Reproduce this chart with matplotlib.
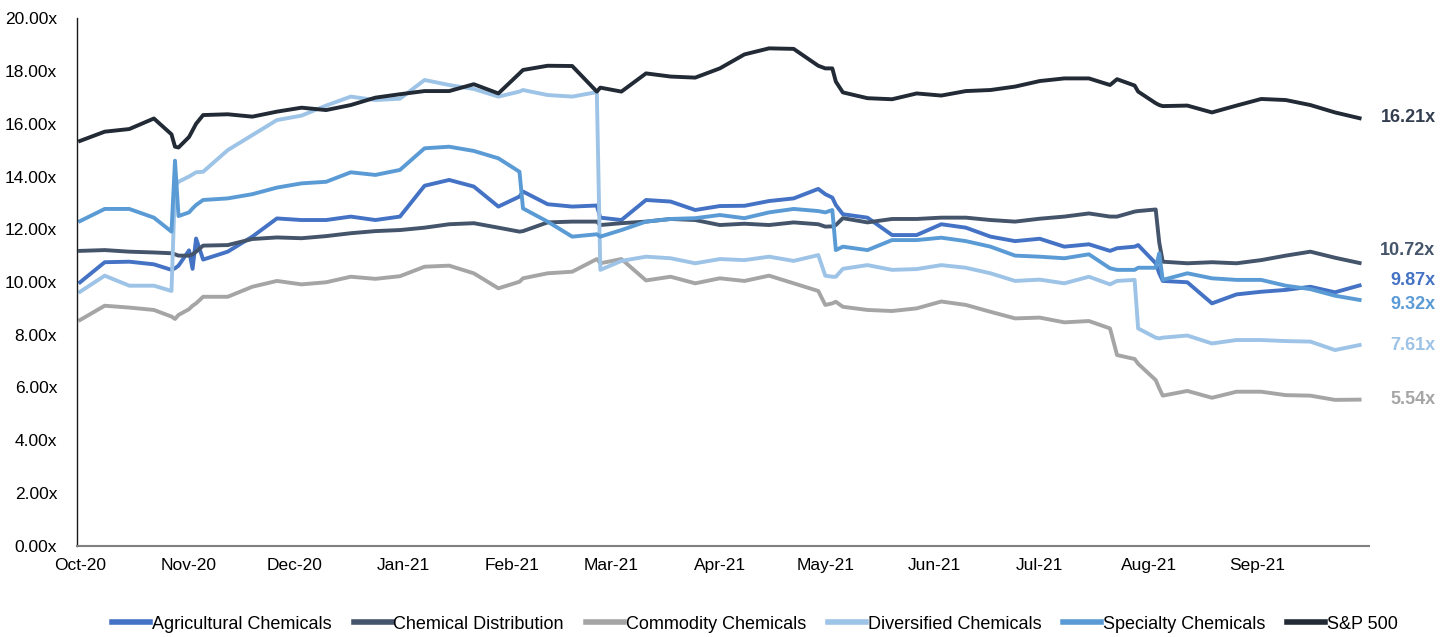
import numpy as np
import pandas as pd
import matplotlib
matplotlib.use('Agg')
import matplotlib.pyplot as plt
import matplotlib.dates as mdates
from matplotlib.transforms import blended_transform_factory

plt.rcParams['font.family'] = ['Liberation Sans', 'DejaVu Sans']

# days since 2020-10-01
day_offsets = [0, 7, 14, 21, 26, 27, 28, 31, 32, 33, 35, 42, 49, 56, 63, 70, 77, 84, 91,
               98, 105, 112, 119, 125, 126, 133, 140, 147, 148, 154, 161, 168, 175, 182,
               189, 196, 203, 210, 212, 214, 215, 217, 224, 231, 238, 245, 252, 259, 266, 273,
               280, 287, 293, 295, 300, 301, 306, 307, 308, 315, 322, 329, 336, 343, 350, 357, 364]

agricultural = [9.99, 10.75, 10.77, 10.67, 10.46, 10.52, 10.62, 11.2, 10.5, 11.65, 10.85, 11.15, 11.72,
                12.41, 12.35, 12.35, 12.48, 12.35, 12.48,
                13.65, 13.87, 13.62, 12.86, 13.24, 13.43, 12.95, 12.86, 12.9, 12.44, 12.35, 13.11, 13.05, 12.73, 12.88,
                12.89, 13.07, 13.17, 13.53, 13.33, 13.20, 12.92, 12.57, 12.44, 11.78, 11.78, 12.19, 12.06, 11.72, 11.55, 11.64,
                11.34, 11.43, 11.18, 11.28, 11.34, 11.40, 10.71, 10.33, 10.04, 9.99, 9.19, 9.53, 9.63, 9.70, 9.82, 9.61, 9.87]

chem_distribution = [11.18, 11.21, 11.15, 11.12, 11.09, 11.05, 11.0, 11.0, 11.05, 11.15, 11.38, 11.40, 11.63,
                     11.69, 11.66, 11.74, 11.85, 11.93, 11.97,
                     12.06, 12.19, 12.23, 12.06, 11.91, 11.93, 12.26, 12.29, 12.29, 12.16, 12.23, 12.29, 12.39, 12.35, 12.16,
                     12.21, 12.16, 12.26, 12.19, 12.10, 12.11, 12.16, 12.42, 12.26, 12.39, 12.39, 12.44, 12.44, 12.35, 12.29, 12.40,
                     12.48, 12.60, 12.48, 12.48, 12.67, 12.69, 12.75, 11.5, 10.77, 10.71, 10.75, 10.71, 10.83, 11.0, 11.15, 10.92, 10.72]

commodity = [8.56, 9.10, 9.03, 8.94, 8.69, 8.60, 8.75, 8.97, 9.10, 9.19, 9.44, 9.44, 9.82,
             10.04, 9.91, 9.99, 10.20, 10.12, 10.22,
             10.58, 10.62, 10.33, 9.76, 10.01, 10.14, 10.33, 10.39, 10.87, 10.71, 10.87, 10.06, 10.20, 9.95, 10.14,
             10.04, 10.24, 9.95, 9.66, 9.13, 9.19, 9.25, 9.06, 8.94, 8.90, 9.00, 9.26, 9.13, 8.87, 8.62, 8.65,
             8.47, 8.52, 8.24, 7.23, 7.08, 6.9, 6.28, 5.97, 5.69, 5.87, 5.61, 5.84, 5.84, 5.71, 5.69, 5.53, 5.54]

diversified = [9.63, 10.24, 9.86, 9.86, 9.66, 13.62, 13.80, 14.0, 14.08, 14.16, 14.18, 15.0, 15.57,
               16.14, 16.31, 16.69, 17.03, 16.90, 16.95,
               17.66, 17.47, 17.32, 17.03, 17.22, 17.28, 17.09, 17.03, 17.2, 10.46, 10.80, 10.96, 10.90, 10.71, 10.87,
               10.83, 10.96, 10.80, 11.02, 10.24, 10.20, 10.20, 10.50, 10.64, 10.46, 10.49, 10.64, 10.54, 10.33, 10.04, 10.09,
               9.95, 10.20, 9.91, 10.04, 10.08, 8.24, 7.89, 7.86, 7.89, 7.97, 7.67, 7.80, 7.80, 7.76, 7.74, 7.42, 7.61]

specialty = [12.31, 12.77, 12.77, 12.44, 11.91, 14.6, 12.5, 12.64, 12.79, 12.92, 13.11, 13.17, 13.33,
             13.58, 13.74, 13.80, 14.16, 14.06, 14.25,
             15.07, 15.13, 14.97, 14.69, 14.18, 12.79, 12.29, 11.72, 11.81, 11.72, 11.97, 12.29, 12.39, 12.42, 12.54,
             12.42, 12.64, 12.77, 12.69, 12.64, 12.73, 11.21, 11.34, 11.21, 11.59, 11.59, 11.68, 11.55, 11.34, 11.00, 10.96,
             10.90, 11.05, 10.52, 10.46, 10.46, 10.54, 10.54, 11.09, 10.08, 10.33, 10.14, 10.08, 10.08, 9.86, 9.73, 9.48, 9.32]

sp500 = [15.35, 15.70, 15.80, 16.20, 15.6, 15.13, 15.1, 15.5, 15.75, 16.0, 16.33, 16.36, 16.27,
         16.46, 16.61, 16.52, 16.71, 16.99, 17.12,
         17.24, 17.24, 17.50, 17.15, 17.91, 18.04, 18.20, 18.19, 17.22, 17.37, 17.22, 17.91, 17.79, 17.75, 18.10,
         18.63, 18.86, 18.84, 18.2, 18.10, 18.10, 17.6, 17.19, 16.97, 16.93, 17.15, 17.07, 17.24, 17.28, 17.41, 17.62,
         17.72, 17.72, 17.47, 17.69, 17.45, 17.22, 16.78, 16.71, 16.67, 16.69, 16.43, 16.69, 16.94, 16.90, 16.71, 16.43, 16.21]

series_names = ['Agricultural Chemicals', 'Chemical Distribution', 'Commodity Chemicals',
                'Diversified Chemicals', 'Specialty Chemicals', 'S&P 500']
series_values = [agricultural, chem_distribution, commodity, diversified, specialty, sp500]
series_colors = ['#4472C4', '#44546A', '#A5A5A5', '#9DC3E6', '#5B9BD5', '#222A35']
end_labels = ['9.87x', '10.72x', '5.54x', '7.61x', '9.32x', '16.21x']
label_colors = ['#4472C4', '#44546A', '#A5A5A5', '#9DC3E6', '#5B9BD5', '#333F50']
label_y = [10.07, 11.2, 5.56, 7.61, 9.13, 16.25]

start = pd.Timestamp('2020-10-01')
dates = start + pd.to_timedelta(day_offsets, unit='D')

fig = plt.figure(figsize=(14.53, 6.37), dpi=100)
ax = fig.add_axes([0.0527, 0.1433, 0.8893, 0.8280])

handles = []
for name, vals, col in zip(series_names, series_values, series_colors):
    h, = ax.plot(dates, vals, color=col, lw=2.8, solid_joinstyle='round', label=name)
    handles.append(h)

ax.set_ylim(0, 20)
ax.set_yticks(np.arange(0, 20.01, 2))
ax.set_yticklabels([f'{v:.2f}x' for v in np.arange(0, 20.01, 2)])
ax.set_xlim(start - pd.Timedelta(days=1.0), start + pd.Timedelta(days=366.6))
ticks = pd.date_range('2020-10-01', '2021-09-01', freq='MS')
ax.set_xticks(ticks)
ax.set_xticklabels([t.strftime('%b-%y') for t in ticks])

ax.tick_params(axis='y', length=0, pad=14, labelsize=12.5, labelcolor='#000000')
ax.tick_params(axis='x', length=0, pad=9, labelsize=12.5, labelcolor='#000000')
for s in ['top', 'right']:
    ax.spines[s].set_visible(False)
ax.spines['left'].set_color('#1a1a1a')
ax.spines['left'].set_linewidth(1.0)
ax.spines['bottom'].set_color('#808080')
ax.spines['bottom'].set_linewidth(1.5)

tr = blended_transform_factory(fig.transFigure, ax.transData)
for txt, col, yv in zip(end_labels, label_colors, label_y):
    ax.text(0.988, yv, txt, transform=tr, ha='right', va='center', fontsize=13,
            fontweight='bold', color=col, clip_on=False)

leg = fig.legend(handles=handles, loc='center', bbox_to_anchor=(0.5197, 0.02), ncol=6,
                 frameon=False, fontsize=13, handlelength=2.1, handletextpad=0.1,
                 columnspacing=1.22)
for lh in leg.get_lines():
    lh.set_linewidth(4)

fig.savefig('out.png', dpi=100)
